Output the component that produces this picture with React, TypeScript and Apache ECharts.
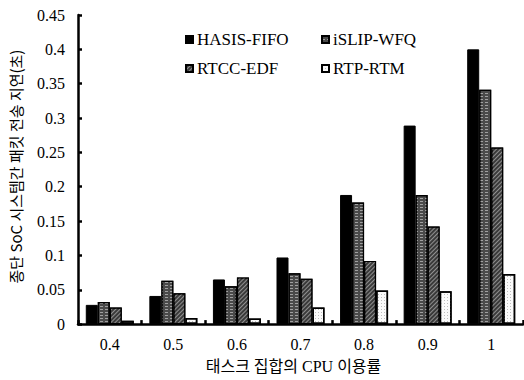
import React, { useEffect, useRef } from "react";
import * as echarts from "echarts";

const categories = ["0.4", "0.5", "0.6", "0.7", "0.8", "0.9", "1"];
const hasisFifo = [0.028, 0.041, 0.065, 0.097, 0.188, 0.289, 0.4];
const islipWfq = [0.032, 0.063, 0.055, 0.074, 0.177, 0.188, 0.341];
const rtccEdf = [0.024, 0.045, 0.068, 0.066, 0.092, 0.142, 0.257];
const rtpRtm = [0.005, 0.009, 0.008, 0.024, 0.049, 0.048, 0.073];
const seriesNames = ["HASIS-FIFO", "iSLIP-WFQ", "RTCC-EDF", "RTP-RTM"];

const SERIF = "'Liberation Serif', 'DejaVu Serif', serif";
const KR = "'Noto Sans CJK KR', sans-serif";

export default function App() {
  const ref = useRef<HTMLDivElement>(null);
  useEffect(() => {
    if (!ref.current) return;
    const chart = echarts.init(ref.current, undefined, { renderer: "svg" });
    const styles = [
      { color: "#000", borderColor: "#000", borderWidth: 1 },
      {
        color: "#4a4a4a",
        borderColor: "#000",
        borderWidth: 1.2,
        decal: {
          symbol: "rect",
          color: "rgba(230,230,230,0.55)",
          dashArrayX: [[3, 2]],
          dashArrayY: [1, 2],
          symbolSize: 1,
          rotation: 0,
        },
      },
      {
        color: "#3a3a3a",
        borderColor: "#000",
        borderWidth: 1.2,
        decal: {
          symbol: "rect",
          color: "rgba(200,200,200,0.6)",
          dashArrayX: [1, 0],
          dashArrayY: [1, 2],
          symbolSize: 1,
          rotation: -Math.PI / 4,
        },
      },
      {
        color: "#fafafa",
        borderColor: "#000",
        borderWidth: 1.5,
        decal: {
          symbol: "rect",
          color: "#bdbdbd",
          dashArrayX: [1, 2],
          dashArrayY: [1, 2],
          symbolSize: 1,
          rotation: 0,
        },
      },
    ];
    const data = [hasisFifo, islipWfq, rtccEdf, rtpRtm];
    const legendPos = [
      { left: 185, top: 31 },
      { left: 321, top: 31 },
      { left: 185, top: 60 },
      { left: 321, top: 60 },
    ];
    chart.setOption({
      animation: false,
      aria: { enabled: false, decal: { show: false } },
      grid: { left: 73, right: 1, top: 15, bottom: 52, containLabel: false },
      legend: seriesNames.map((n, i) => ({
        data: [n],
        left: legendPos[i].left,
        top: legendPos[i].top,
        itemWidth: 7,
        itemHeight: 7,
        itemGap: 5,
        padding: 0,
        icon: "rect",
        textStyle: { fontFamily: SERIF, fontSize: 17, color: "#000", padding: [0, 0, 0, -1] },
      })),
      xAxis: {
        type: "category",
        data: categories,
        boundaryGap: true,
        axisLine: { lineStyle: { color: "#000", width: 2.5 } },
        axisTick: { show: true, inside: true, length: 4, lineStyle: { color: "#000", width: 2.5 } },
        axisLabel: { fontFamily: SERIF, fontSize: 16, color: "#000", margin: 12 },
        name: "태스크 집합의 CPU 이용률",
        nameLocation: "middle",
        nameGap: 32,
        nameTextStyle: { fontFamily: SERIF + ", " + KR, fontSize: 16, lineHeight: 18, color: "#000", padding: [0, 14, 0, 0] },
      },
      yAxis: {
        type: "value",
        min: 0,
        max: 0.45,
        interval: 0.05,
        splitLine: { show: false },
        axisLine: { show: true, lineStyle: { color: "#000", width: 2.5 } },
        axisTick: { show: true, inside: true, length: 4, lineStyle: { color: "#000", width: 2.5 } },
        axisLabel: { fontFamily: SERIF, fontSize: 16, color: "#000", margin: 13 },
        name: "종단 SoC 시스템간 패킷 전송 지연(초)",
        nameLocation: "middle",
        nameGap: 55,
        nameRotate: 90,
        nameTextStyle: { fontFamily: KR, fontSize: 15, color: "#000", padding: [0, 0, 0, 6] },
      },
      series: seriesNames.map((n, i) => ({
        name: n,
        type: "bar",
        data: data[i],
        barWidth: 12,
        barGap: "0%",
        itemStyle: styles[i],
      })),
    });
    return () => chart.dispose();
  }, []);
  return <div ref={ref} style={{ width: 524, height: 380, position: "absolute", left: 0, top: 0 }} />;
}
